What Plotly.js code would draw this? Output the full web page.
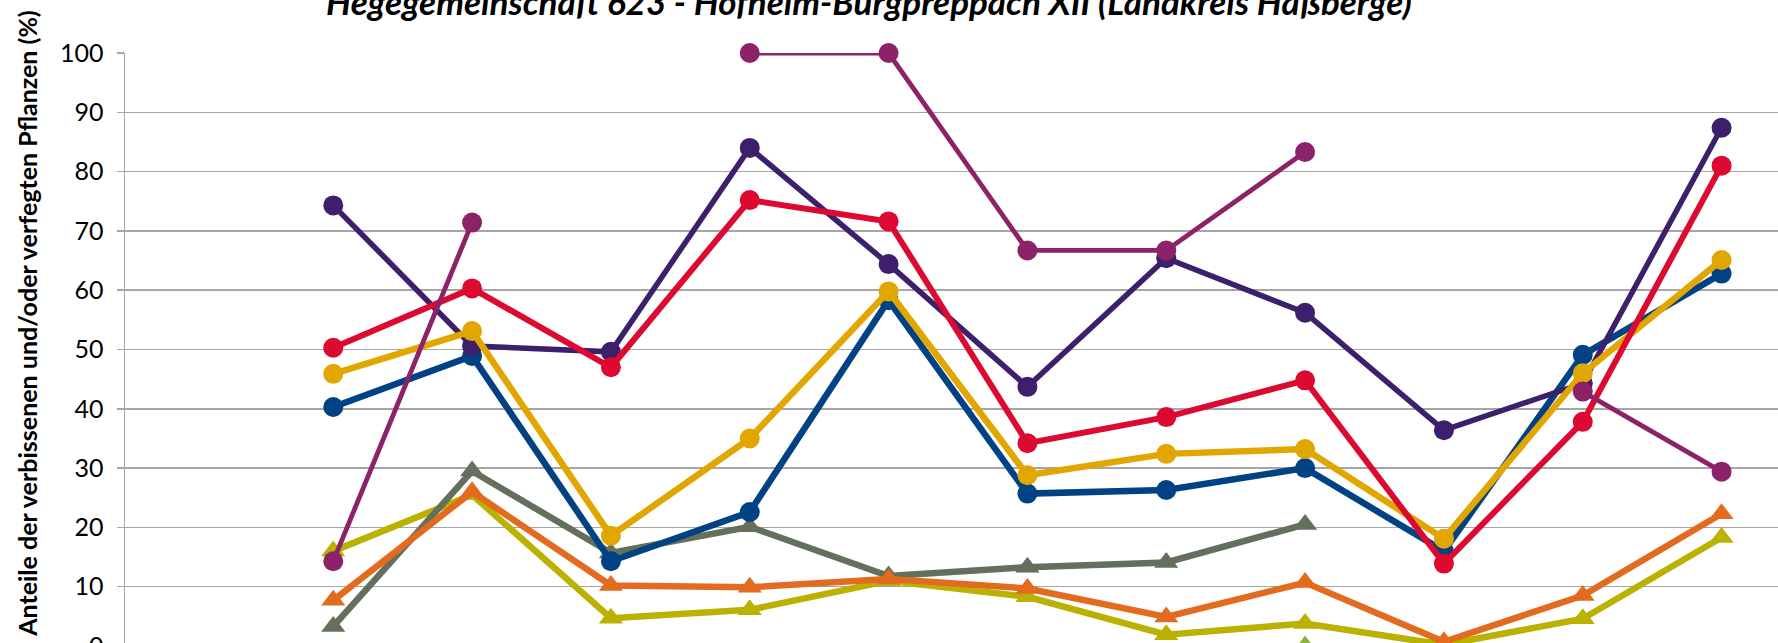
<!DOCTYPE html>
<html>
<head>
<meta charset="utf-8">
<script src="https://cdn.plot.ly/plotly-3.0.1.min.js"></script>
<style>
  html, body { margin: 0; padding: 0; background: #ffffff; overflow: hidden; }
  #chart { width: 1800px; height: 720px; }
</style>
</head>
<body>
<div id="chart"></div>
<script>
// Survey categories (x axis; their labels lie below the visible crop)
const categories = ['1991', '1994', '1997', '2000', '2003', '2006', '2009', '2012', '2015', '2018', '2021', '2024'];

// Series values (%), one entry per category, null = no value
const seriesDarkPurple = [null, 74.3, 50.6, 49.6, 84.0, 64.4, 43.7, 65.4, 56.2, 36.4, 44.3, 87.4];
const seriesMagenta    = [null, 14.3, 71.4, null, 100, 100, 66.7, 66.7, 83.3, null, 42.9, 29.4];
const seriesRed        = [null, 50.3, 60.3, 47.0, 75.2, 71.6, 34.2, 38.6, 44.8, 13.9, 37.8, 81.0];
const seriesGold       = [null, 45.9, 53.1, 18.6, 35.0, 59.8, 28.8, 32.4, 33.2, 18.1, 46.0, 65.1];
const seriesBlue       = [null, 40.3, 48.9, 14.3, 22.6, 58.3, 25.7, 26.3, 30.0, 16.0, 49.1, 62.8];
const seriesGrayGreen  = [null, 3.3, 29.5, 15.7, 20.1, 11.8, 13.3, 14.1, 20.5, null, null, null];
const seriesOrange     = [null, 7.7, 26.0, 10.2, 9.9, 11.3, 9.7, 4.9, 10.7, 0.7, 8.5, 22.3];
const seriesOlive      = [null, 16.0, 25.5, 4.7, 6.1, 11.0, 8.3, 1.9, 3.8, 0.2, 4.6, 18.3];
const seriesGreen      = [null, null, null, null, null, null, null, null, 0.0, null, null, null];

const yTicks = [0, 10, 20, 30, 40, 50, 60, 70, 80, 90, 100];

const titleText = 'Hegegemeinschaft 623 - Hofheim-Burgpreppach XII (Landkreis Haßberge)';
const yTitleText = 'Anteile der verbissenen und/oder verfegten Pflanzen (%)';

function lineTrace(name, values, color, width, symbol, size) {
  return {
    type: 'scatter',
    mode: 'lines+markers',
    name: name,
    x: categories,
    y: values,
    connectgaps: false,
    cliponaxis: false,
    line: { color: color, width: width },
    marker: { color: color, symbol: symbol, size: size, line: { width: 0 } }
  };
}

const data = [
  lineTrace('Reihe 9', seriesGreen, '#8FB33A', 6.5, 'triangle-up', 21),
  lineTrace('Reihe 8', seriesOlive, '#BAB100', 6.5, 'triangle-up', 21),
  lineTrace('Reihe 7', seriesGrayGreen, '#646F5C', 6.5, 'triangle-up', 21),
  lineTrace('Reihe 6', seriesOrange, '#E36B1F', 6.5, 'triangle-up', 21),
  lineTrace('Reihe 5', seriesBlue, '#004283', 6.5, 'circle', 20),
  lineTrace('Reihe 4', seriesDarkPurple, '#3D1F6B', 5.5, 'circle', 20),
  lineTrace('Reihe 3', seriesGold, '#E1A600', 6.5, 'circle', 20),
  lineTrace('Reihe 2', seriesRed, '#DC0A30', 6, 'circle', 20),
  lineTrace('Reihe 1', seriesMagenta, '#8C2268', 4.8, 'circle', 20)
];

const layout = {
  width: 1800,
  height: 720,
  paper_bgcolor: '#ffffff',
  plot_bgcolor: '#ffffff',
  showlegend: false,
  margin: { l: 125, r: 9, t: 53, b: 74, autoexpand: false },
  title: {
    text: '<b><i>' + titleText + '</i></b>',
    font: { family: 'Lato', size: 35, color: '#000000' },
    x: 869 / 1800,
    xanchor: 'center',
    xref: 'container',
    y: 1 - 3 / 720,
    yref: 'container',
    yanchor: 'middle'
  },
  annotations: [{
    text: '<b>' + yTitleText + '</b>',
    textangle: -90,
    xref: 'paper',
    yref: 'paper',
    x: (27 - 125) / 1666,
    y: (645.7 - 323.5) / 593,
    xanchor: 'center',
    yanchor: 'middle',
    showarrow: false,
    font: { family: 'Lato', size: 25, color: '#000000' }
  }],
  xaxis: {
    type: 'category',
    categoryorder: 'array',
    categoryarray: categories,
    range: [-0.5, 11.5],
    showgrid: false,
    zeroline: false,
    showline: true,
    linecolor: '#A6A6A6',
    linewidth: 1.5,
    ticks: '',
    showticklabels: false,
    fixedrange: true
  },
  yaxis: {
    range: [0, 100],
    tickvals: yTicks,
    ticktext: yTicks.map(String),
    showgrid: true,
    gridcolor: '#A6A6A6',
    gridwidth: 1.5,
    zeroline: false,
    showline: true,
    linecolor: '#A6A6A6',
    linewidth: 1.5,
    ticks: 'outside',
    ticklen: 7,
    tickwidth: 1.5,
    tickcolor: '#A6A6A6',
    ticklabelstandoff: 8,
    tickfont: { family: 'Lato', size: 25, color: '#000000' },
    automargin: false,
    fixedrange: true
  }
};

Plotly.newPlot('chart', data, layout, { staticPlot: true, displayModeBar: false });
</script>
</body>
</html>
